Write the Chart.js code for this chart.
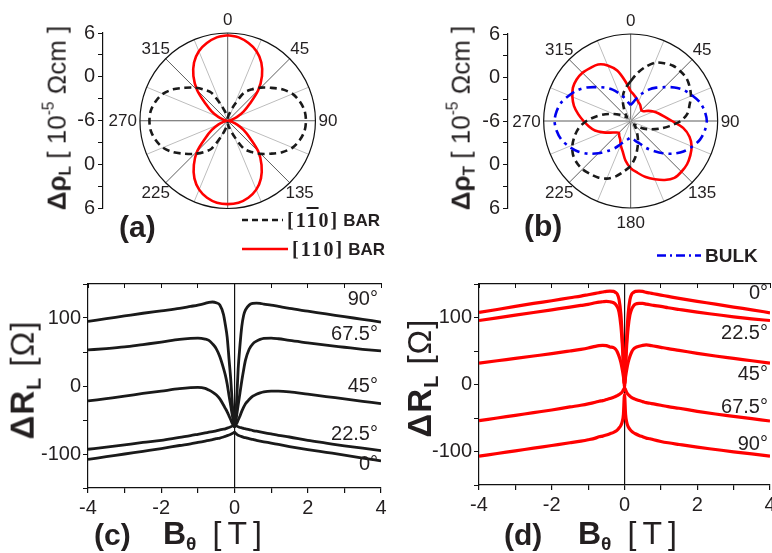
<!DOCTYPE html>
<html lang="en">
<head>
<meta charset="UTF-8" />
<meta name="viewport" content="width=device-width, initial-scale=1.0" />
<title>Anisotropic magnetoresistance</title>
<style>
  html, body { margin: 0; padding: 0; }
  body {
    position: relative; width: 772px; height: 553px; overflow: hidden;
    background: #fff; color: #231f20;
    font-family: "Liberation Sans", Arial, Helvetica, sans-serif;
  }
  canvas { position: absolute; }
  .t { position: absolute; white-space: nowrap; line-height: 1; }
  .vt { transform: translate(-50%, -50%) rotate(-90deg); }
  .mid { transform: translateY(-50%); }
  .rgt { transform: translate(-100%, -50%); }
  .panel { font-weight: bold; font-size: 30px; }
  .ytitle { font-size: 26px; }
  .rtitle { font-size: 33px; letter-spacing: 1px; }
  .xtitle { font-size: 32px; }
  .xtitle .unit { letter-spacing: 6px; margin-left: 16px; }
  sub { font-size: 0.6em; vertical-align: -0.35em; }
  sup { font-size: 0.6em; vertical-align: 0.75em; }
  .curve { font-size: 20px; }
  .legend { font-size: 17px; font-weight: bold; display: flex; align-items: center; gap: 4px; }
  .miller { font-family: "Liberation Serif", "Times New Roman", serif; font-size: 20px; font-weight: bold; letter-spacing: 2px; }
  .bar { text-decoration: overline; }
</style>
</head>
<body>
  <canvas id="rhoL" style="left:0;top:0" width="360" height="230"></canvas>
  <canvas id="rhoT" style="left:390px;top:0" width="382" height="230"></canvas>
  <canvas id="barA" style="left:0;top:270px" width="390" height="250"></canvas>
  <canvas id="barB" style="left:390px;top:270px" width="390" height="250"></canvas>

  <!-- axis titles -->
  <div class="t vt ytitle" style="left:57px;top:118px"><b>&Delta;&rho;<sub>L</sub></b> [ 10<sup>-5</sup> &Omega;cm ]</div>
  <div class="t vt ytitle" style="left:461px;top:118px"><b>&Delta;&rho;<sub>T</sub></b> [ 10<sup>-5</sup> &Omega;cm ]</div>
  <div class="t vt rtitle" style="left:25px;top:380px"><b>&Delta;R<sub>L</sub></b> [&Omega;]</div>
  <div class="t vt rtitle" style="left:422px;top:378px"><b>&Delta;R<sub>L</sub></b> [&Omega;]</div>
  <div class="t mid xtitle" style="left:163px;top:535px"><b>B<sub>&theta;</sub></b><span class="unit">[T]</span></div>
  <div class="t mid xtitle" style="left:578px;top:535px"><b>B<sub>&theta;</sub></b><span class="unit">[T]</span></div>

  <!-- panel letters -->
  <div class="t mid panel" style="left:119px;top:227px">(a)</div>
  <div class="t mid panel" style="left:524px;top:226px">(b)</div>
  <div class="t mid panel" style="left:94px;top:535px">(c)</div>
  <div class="t mid panel" style="left:504px;top:535px">(d)</div>

  <!-- legend -->
  <div class="t mid legend" style="left:242px;top:220px">
    <svg width="41" height="6"><line x1="0" y1="3" x2="41" y2="3" stroke="#1a1a1a" stroke-width="2.6" stroke-dasharray="6 4"/></svg>
    <span class="miller">[1<span class="bar">1</span>0]</span><span>BAR</span>
  </div>
  <div class="t mid legend" style="left:242px;top:249px">
    <svg width="46" height="6"><line x1="0" y1="3" x2="46" y2="3" stroke="#ff0000" stroke-width="2.6"/></svg>
    <span class="miller">[110]</span><span>BAR</span>
  </div>
  <div class="t mid legend" style="left:657px;top:255px;font-size:19px">
    <svg width="44" height="6"><line x1="0" y1="3" x2="44" y2="3" stroke="#0000ee" stroke-width="2.6" stroke-dasharray="9 4 2 4"/></svg>
    <span>BULK</span>
  </div>

  <!-- curve angles -->
  <div class="t rgt curve" style="left:378px;top:298px">90&deg;</div>
  <div class="t rgt curve" style="left:378px;top:333px">67.5&deg;</div>
  <div class="t rgt curve" style="left:378px;top:385px">45&deg;</div>
  <div class="t rgt curve" style="left:378px;top:433px">22.5&deg;</div>
  <div class="t rgt curve" style="left:378px;top:463px">0&deg;</div>
  <div class="t rgt curve" style="left:768px;top:292px">0&deg;</div>
  <div class="t rgt curve" style="left:768px;top:332px">22.5&deg;</div>
  <div class="t rgt curve" style="left:768px;top:373px">45&deg;</div>
  <div class="t rgt curve" style="left:768px;top:406px">67.5&deg;</div>
  <div class="t rgt curve" style="left:768px;top:443px">90&deg;</div>

  <script src="https://cdn.jsdelivr.net/npm/chart.js@4.4.1/dist/chart.umd.min.js"></script>
  <script>
    // field direction, degrees clockwise from the top of the polar plots
    const ANGLES = [0, 7.5, 15, 22.5, 30, 37.5, 45, 52.5, 60, 67.5, 75, 82.5,
      90, 97.5, 105, 112.5, 120, 127.5, 135, 142.5, 150, 157.5, 165, 172.5,
      180, 187.5, 195, 202.5, 210, 217.5, 225, 232.5, 240, 247.5, 255, 262.5,
      270, 277.5, 285, 292.5, 300, 307.5, 315, 322.5, 330, 337.5, 345, 352.5];
    const POLAR_MIN = -6;  // value at the centre
    const POLAR_MAX = 6;   // value on the outer circle

    // longitudinal resistivity, 1e-5 Ohm cm
    const RHO_L_1M10 = [-5.7, -5.3, -4.8, -3.7, -1.6, -0.6, 0.4, 1.4, 2.6, 3.6, 4.2, 4.6,
      4.7, 4.6, 4.2, 3.6, 2.6, 1.4, 0.4, -0.6, -1.6, -3.7, -4.8, -5.3,
      -5.7, -5.3, -4.8, -3.7, -1.6, -0.6, 0.4, 1.4, 2.6, 3.6, 4.2, 4.6,
      4.7, 4.6, 4.2, 3.6, 2.6, 1.4, 0.4, -0.6, -1.6, -3.7, -4.8, -5.3];
    const RHO_L_110 = [5.7, 5.5, 5.0, 4.3, 3.2, 1.7, -0.1, -2.2, -3.5, -4.6, -5.4, -5.8,
      -6.0, -5.8, -5.4, -4.6, -3.5, -2.2, -0.1, 1.6, 3.1, 4.2, 4.9, 5.3,
      5.4, 5.3, 4.9, 4.2, 3.1, 1.6, -0.1, -2.2, -3.5, -4.6, -5.4, -5.8,
      -6.0, -5.8, -5.4, -4.6, -3.5, -2.2, -0.1, 1.7, 3.2, 4.3, 5.0, 5.5];

    // transverse resistivity, 1e-5 Ohm cm
    const RHO_T_1M10 = [-0.5, 0.6, 1.7, 2.7, 3.2, 3.6, 3.7, 3.7, 3.4, 3.0, 2.4, 1.9,
      0.9, -0.6, -1.9, -3.0, -3.9, -4.8, -5.3, -4.9, -4.3, -3.4, -2.3, -1.0,
      0.2, 1.0, 1.9, 2.6, 3.0, 3.2, 3.4, 3.4, 3.2, 2.7, 2.0, 1.2,
      0.1, -1.2, -2.4, -3.5, -4.3, -4.9, -5.3, -4.9, -4.2, -3.2, -2.1, -1.3];
    const RHO_T_110 = [-1.9, -2.4, -2.8, -3.2, -3.4, -3.7, -3.9, -3.8, -3.2, -2.6, -2.0, -1.3,
      -0.3, 1.3, 2.4, 3.1, 3.5, 3.8, 3.9, 3.9, 3.4, 2.7, 2.0, 1.2,
      0.5, -0.5, -1.7, -2.4, -3.1, -3.4, -3.7, -3.4, -2.8, -1.9, -0.9, -0.2,
      0.5, 1.3, 2.1, 2.7, 3.2, 3.4, 3.4, 3.2, 3.0, 2.3, 1.2, -0.5];
    const RHO_T_BULK = [-3.8, -3.4, -2.7, -1.9, -1.0, -0.2, 0.6, 1.6, 2.5, 3.2, 3.9, 4.3,
      4.5, 4.3, 3.9, 3.2, 2.4, 1.4, 0.3, -0.8, -1.7, -2.6, -3.1, -3.5,
      -3.7, -3.5, -3.1, -2.6, -1.7, -0.8, 0.3, 1.4, 2.4, 3.2, 3.9, 4.3,
      4.5, 4.3, 3.9, 3.2, 2.5, 1.6, 0.6, -0.2, -1.0, -1.9, -2.7, -3.4];

    const ANGLE_TICKS_L = [0, 45, 90, 135, 225, 270, 315];
    const ANGLE_TICKS_T = [0, 45, 90, 135, 180, 225, 270, 315];

    // in-plane field, tesla
    const B_FIELD = [-4, -3.5, -3, -2.5, -2, -1.5, -1.2, -1, -0.8, -0.7, -0.6, -0.5, -0.4,
      -0.3, -0.25, -0.2, -0.15, -0.1, -0.06, -0.03, 0, 0.03, 0.06, 0.1, 0.15, 0.2, 0.25,
      0.3, 0.4, 0.5, 0.6, 0.7, 0.8, 1, 1.2, 1.5, 2, 2.5, 3, 3.5, 4];

    // [1-10] bar, resistance change in ohm
    const DR_1M10_90 = [95, 99, 103, 107, 110.5, 114, 117, 119, 121.5, 123, 123.5, 122.5, 119,
      105, 90, 72, 40, 8, -25, -45, -60, -45, -20, 25, 60, 88, 104,
      112, 119, 121.5, 122, 121.5, 120.5, 119, 117, 114, 110, 106, 102, 98, 94];
    const DR_1M10_675 = [53, 55, 57.5, 61, 64.5, 68.5, 70, 70.5, 69, 67, 62, 55, 43,
      26, 16, 3, -14, -30, -43, -53, -60, -53, -43, -28, -10, 8, 24,
      38, 54, 62, 66, 68.5, 70, 70.5, 69.5, 67, 63.5, 60, 57, 54, 51.5];
    const DR_1M10_45 = [-22, -18.5, -15, -11, -7.5, -4, -2.5, -2, -3.5, -6, -9, -13, -19,
      -28, -33, -38, -44, -50, -55, -58, -60, -58, -55, -50, -44, -37, -31,
      -26, -20, -15, -12, -10, -8.5, -7.5, -7.5, -8.5, -12, -15.5, -19, -22.5, -26];
    const DR_1M10_225 = [-93, -90, -86.5, -83, -80, -75.5, -73, -71, -69, -68, -67, -66, -64.5,
      -63.5, -63, -62, -61, -60, -59, -58, -57, -58, -59, -60, -61, -61.5, -62.5,
      -63, -64, -65.5, -66.5, -67.5, -68.5, -70.5, -72.5, -75, -80, -84, -88, -91.5, -95];
    const DR_1M10_0 = [-108, -104, -100, -96, -92, -87.5, -85, -83, -81, -80, -79, -77.5, -76.5,
      -75, -74, -73, -72, -71, -70, -69, -68, -69.5, -71, -72.5, -73.5, -74.5, -75.5,
      -76, -77.5, -78.5, -80, -81, -82, -84, -86, -89, -93.5, -97.5, -101.5, -106, -110];

    // [110] bar, resistance change in ohm
    const DR_110_0 = [107.5, 112, 116.5, 121, 125, 129.5, 132, 134, 136, 137, 138, 139, 139.5,
      139, 137.5, 135, 127, 105, 70, 35, -5, 35, 70, 105, 127, 135, 137.5,
      139, 139.5, 139, 137.5, 136.5, 135.5, 133.5, 131.5, 128.5, 124, 120, 115.5, 111.5, 107];
    const DR_110_225 = [95.5, 99.5, 103.5, 107.5, 111.5, 115.5, 118, 119.5, 122, 123, 123.5, 124, 123.5,
      122, 120, 116, 108, 88, 60, 30, 0, 30, 58, 85, 104, 113, 117.5,
      120, 121, 121, 120, 119, 118, 116.5, 114.5, 112, 108, 104.5, 101, 98, 95.5];
    const DR_110_45 = [32, 35.5, 39, 42.5, 46, 50, 52.5, 54.5, 57, 58, 58.5, 58, 56,
      55, 53, 49, 42, 33, 22, 12, 0, 12, 22, 33, 42, 49, 53,
      55, 57, 58.5, 59, 58.5, 57.5, 55.5, 53.5, 51, 46.5, 42.5, 39, 35.5, 32];
    const DR_110_675 = [-54, -50, -46, -42, -38, -33.5, -31, -29, -26.5, -25, -24, -22.5, -21,
      -19, -18, -16.5, -15, -13, -11, -8, -5, -8, -12, -15, -17.5, -19.5, -21,
      -22, -24, -25.5, -27, -28, -29, -31, -33, -35.5, -40, -44, -47.5, -51, -54.5];
    const DR_110_90 = [-107, -103, -99, -95, -91, -87, -84.5, -82.5, -80, -78, -77, -75.5, -73.5,
      -71.5, -70, -68, -65, -61, -55, -45, -15, -45, -56, -63, -67, -70, -72,
      -73.5, -76, -78, -80, -81, -82.5, -85, -87, -89.5, -93.5, -97, -100.5, -103.5, -107];

    const BLACK = '#1a1a1a';
    const RED = '#ff0000';
    const BLUE = '#0000ee';
    const FONT = '"Liberation Sans", Arial, Helvetica, sans-serif';

    Chart.defaults.font.family = FONT;
    Chart.defaults.color = '#231f20';

    // circle, spokes and angle labels of a polar panel, drawn on the x/y scales
    const polarGrid = {
      id: 'polarGrid',
      beforeDatasetsDraw(chart, args, opts) {
        const { ctx, scales: { x, y } } = chart;
        const cx = x.getPixelForValue(0);
        const cy = y.getPixelForValue(0);
        const R = cy - y.getPixelForValue(POLAR_MAX - POLAR_MIN);
        ctx.save();
        ctx.lineWidth = 1;
        for (let a = 0; a < 360; a += 22.5) {
          const t = a * Math.PI / 180;
          ctx.strokeStyle = a % 45 === 0 ? '#5c5c5c' : '#bdbdbd';
          ctx.beginPath();
          ctx.moveTo(cx, cy);
          ctx.lineTo(cx + R * Math.sin(t), cy - R * Math.cos(t));
          ctx.stroke();
        }
        ctx.strokeStyle = '#111';
        ctx.lineWidth = 1.2;
        ctx.beginPath();
        ctx.arc(cx, cy, R, 0, 2 * Math.PI);
        ctx.stroke();

        ctx.fillStyle = '#231f20';
        ctx.font = '17px ' + FONT;
        ctx.textAlign = 'center';
        ctx.textBaseline = 'middle';
        opts.labels.forEach(a => {
          const t = a * Math.PI / 180, s = Math.sin(t), c = Math.cos(t);
          const text = String(a);
          const w = ctx.measureText(text).width;
          let px, py;
          if (Math.abs(s) > 0.99) {
            px = cx + s * (R + 3 + w / 2);
            py = cy + 1;
          } else {
            px = cx + (R + 14) * s;
            py = cy - (R + 14) * c + 1;
          }
          ctx.fillText(text, px, py);
        });
        ctx.restore();
      }
    };

    function polarPoints(values) {
      const pts = values.map((v, i) => {
        const t = ANGLES[i] * Math.PI / 180;
        const d = v - POLAR_MIN;
        return { x: d * Math.sin(t), y: d * Math.cos(t) };
      });
      pts.push(pts[0]);
      return pts;
    }

    function polarChart(id, series, angleTicks, xMin, xMax, padding) {
      const span = POLAR_MAX - POLAR_MIN;
      return new Chart(document.getElementById(id), {
        type: 'scatter',
        data: {
          datasets: series.map(s => ({
            data: polarPoints(s.values),
            showLine: true,
            borderColor: s.color,
            borderWidth: 2.6,
            borderDash: s.dash || [],
            pointRadius: 0,
            tension: 0.3
          }))
        },
        options: {
          responsive: false,
          animation: false,
          events: [],
          layout: { padding },
          plugins: {
            legend: { display: false },
            tooltip: { enabled: false },
            polarGrid: { labels: angleTicks }
          },
          scales: {
            x: { type: 'linear', display: false, min: xMin, max: xMax },
            y: {
              type: 'linear', min: -span, max: span,
              afterFit: s => { s.width = 40; },
              ticks: {
                stepSize: 3, autoSkip: false, padding: 3,
                font: { size: 20 },
                callback: v => v % 6 === 0 ? String(Math.abs(v) + POLAR_MIN) : ''
              },
              grid: { drawOnChartArea: false, tickLength: 5, tickColor: '#111' },
              border: { color: '#111', width: 1.2 }
            }
          }
        },
        plugins: [polarGrid]
      });
    }

    function fieldChart(id, series, color, width, padding) {
      return new Chart(document.getElementById(id), {
        type: 'scatter',
        data: {
          datasets: series.map(values => ({
            data: B_FIELD.map((b, i) => ({ x: b, y: values[i] })),
            showLine: true,
            borderColor: color,
            borderWidth: width,
            pointRadius: 0,
            cubicInterpolationMode: 'monotone'
          }))
        },
        options: {
          responsive: false,
          animation: false,
          events: [],
          layout: { padding },
          plugins: { legend: { display: false }, tooltip: { enabled: false } },
          scales: {
            x: {
              type: 'linear', min: -4, max: 4,
              afterFit: s => { s.height = 30; },
              ticks: {
                stepSize: 1, autoSkip: false, maxRotation: 0, padding: 3,
                font: { size: 20 },
                callback: v => v % 2 === 0 ? String(v) : ''
              },
              grid: {
                color: ctx => ctx.tick && ctx.tick.value === 0 ? '#111' : 'rgba(0,0,0,0)',
                lineWidth: 1.2,
                tickColor: '#111',
                tickLength: 5
              },
              border: { color: '#111', width: 1.2 }
            },
            xTop: {
              type: 'linear', position: 'top', min: -4, max: 4,
              afterFit: s => { s.height = 0; },
              ticks: { display: false, stepSize: 1 },
              grid: { drawOnChartArea: false, tickLength: -4, tickColor: '#111' },
              border: { color: '#111', width: 1.2 }
            },
            y: {
              type: 'linear', min: -150, max: 150,
              afterFit: s => { s.width = 60; },
              ticks: {
                stepSize: 50, autoSkip: false, padding: 2,
                font: { size: 20 },
                callback: v => v % 100 === 0 ? String(v) : ''
              },
              grid: { drawOnChartArea: false, tickLength: 5, tickColor: '#111' },
              border: { color: '#111', width: 1.2 }
            }
          }
        }
      });
    }

    polarChart('rhoL', [
      { values: RHO_L_1M10, color: BLACK, dash: [7, 4.5] },
      { values: RHO_L_110, color: RED }
    ], ANGLE_TICKS_L, -17.05, 13.99, { left: 63, right: 30, top: 33, bottom: 21.5 });

    polarChart('rhoT', [
      { values: RHO_T_BULK, color: BLUE, dash: [10, 5, 3, 5] },
      { values: RHO_T_1M10, color: BLACK, dash: [7, 4.5] },
      { values: RHO_T_110, color: RED }
    ], ANGLE_TICKS_T, -16.92, 15.08, { left: 78, right: 32, top: 34, bottom: 22 });

    fieldChart('barA', [DR_1M10_90, DR_1M10_675, DR_1M10_45, DR_1M10_225, DR_1M10_0],
      BLACK, 2.8, { left: 28, right: 9, top: 8, bottom: 2 });

    fieldChart('barB', [DR_110_0, DR_110_225, DR_110_45, DR_110_675, DR_110_90],
      RED, 3.2, { left: 29, right: 10, top: 7, bottom: 5 });
  </script>
</body>
</html>
